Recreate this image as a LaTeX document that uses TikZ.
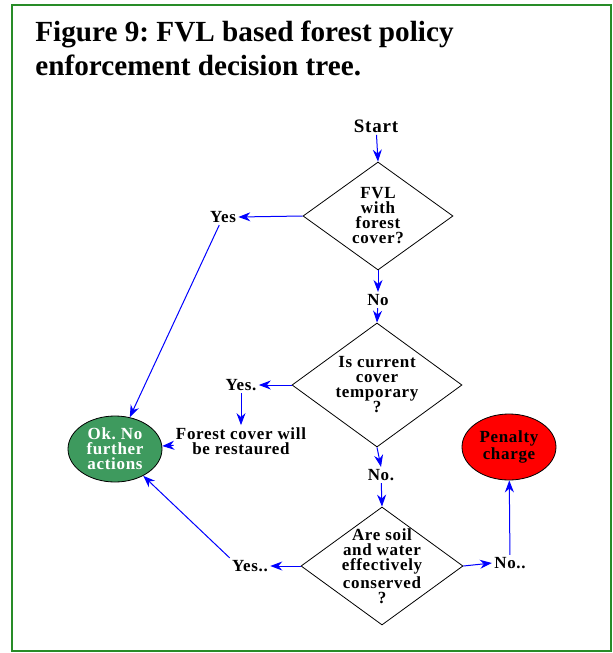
\documentclass[tikz,border=0pt]{standalone}
\usepackage{fontspec}
\setmainfont{Liberation Serif}
\newfontfamily\chartfont[LetterSpace=4]{Liberation Serif}
\usepackage{tikz}
\usetikzlibrary{shapes.geometric, arrows.meta, positioning}
\definecolor{framegreen}{RGB}{40,140,40}
\definecolor{okgreen}{RGB}{62,154,94}
\tikzstyle{arrow} = [blue, line width=0.5pt, -{Stealth[length=6pt,width=4.5pt]}]
\tikzstyle{word} = [font=\chartfont\bfseries\fontsize{8.5}{7.5}\selectfont, align=center, inner sep=1pt]
\tikzstyle{decision} = [diamond, draw, line width=0.4pt, inner sep=0pt, label={[word]center:#1}]
\tikzstyle{outcome} = [ellipse, draw, line width=0.4pt, word, minimum width=47pt, minimum height=33pt]

\begin{document}
\frenchspacing
\begin{tikzpicture}[x=0.5pt, y=-0.5pt]
        \useasboundingbox (0,0) rectangle (612,653);
        \draw[framegreen, line width=1pt] (12,5) rectangle (611,651);
        \node[anchor=north west, align=left, font=\bfseries\fontsize{14.6}{17}\selectfont, inner sep=0pt] (title) at (35,21)
          {Figure 9: FVL based forest policy\\enforcement decision tree.};

        \node[word, font=\chartfont\bfseries\fontsize{9.5}{9}\selectfont] (start) at (376,126) {Start};
        \node[decision={FVL\\with\\forest\\cover?}, minimum width=75pt, minimum height=54pt] (d1) at (378,216) {};
        \node[word] (yes1) at (223,217) {Yes};
        \node[word] (no1) at (378,300) {No};
        \node[decision={Is current\\cover\\temporary\\?}, minimum width=85pt, minimum height=62pt] (d2) at (377,385) {};
        \node[word] (yes2) at (241,385) {Yes.};
        \node[word] (restore) at (241,441) {Forest cover will\\be restaured};
        \node[word] (no2) at (381,475) {No.};
        \node[decision={Are soil\\and water\\effectively\\conserved\\?}, minimum width=81pt, minimum height=59pt] (d3) at (382,566) {};
        \node[word] (yes3) at (250,566) {Yes..};
        \node[word] (no3) at (510,563) {No..};
        \node[outcome, fill=okgreen, text=white] (ok) at (115,449) {Ok. No\\further\\actions};
        \node[outcome, fill=red] (penalty) at (509,447) {Penalty\\charge};

        \draw[arrow] (start) -- (d1.north);
        \draw[arrow] (d1.west) -- (yes1.east);
        \draw[arrow] (d1.south) -- (no1.north);
        \draw[arrow] (no1) -- (d2.north);
        \draw[arrow] (yes1) -- (ok);
        \draw[arrow] (d2.west) -- (yes2.east);
        \draw[arrow] (yes2) -- (restore);
        \draw[arrow] (restore) -- (ok);
        \draw[arrow] (d2.south) -- (no2.north);
        \draw[arrow] (no2) -- (d3.north);
        \draw[arrow] (d3.west) -- (yes3.east);
        \draw[arrow] (yes3.north west) -- (ok);
        \draw[arrow] (d3.east) -- (no3.west);
        \draw[arrow] (no3) -- (penalty);
\end{tikzpicture}
\end{document}
